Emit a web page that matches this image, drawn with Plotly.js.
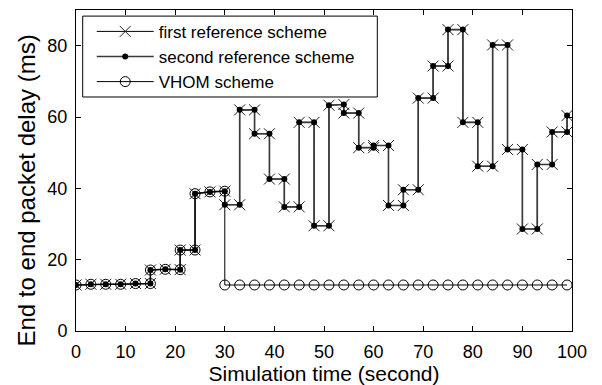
<!DOCTYPE html>
<html>
<head>
<meta charset="utf-8">
<script src="https://cdn.plot.ly/plotly-3.0.1.min.js"></script>
<style>html,body{margin:0;padding:0;background:#fff;}#chart{width:602px;height:385px;}</style>
</head>
<body>
<div id="chart"></div>
<script>
// Simulation time (s) of each plotted point (steps: two points share the time of a jump)
var refTime = [0,3,6,9,12,15,15,18,21,21,24,24,27,30,30,33,33,36,36,39,39,42,42,45,45,48,48,51,51,54,54,57,57,60,60,63,63,66,66,69,69,72,72,75,75,78,78,81,81,84,84,87,87,90,90,93,93,96,96,99,99];
// End to end packet delay (ms)
var firstRefDelay = [12.9,13.1,13.1,13.1,13.3,13.3,17.1,17.3,17.2,22.7,22.7,38.5,39,39.2,35.4,35.4,62,62,55.3,55.3,42.6,42.6,34.8,34.8,58.5,58.5,29.5,29.5,63.3,63.5,61.1,61.1,51.4,51.4,52,52,35.2,35.2,39.6,39.6,65.3,65.3,74.3,74.3,84.5,84.5,58.5,58.5,46.2,46.2,80.2,80.2,50.9,50.9,28.6,28.6,46.7,46.7,55.8,55.8,60.4];
var secondRefDelay = [12.9,13.1,13.1,13.1,13.3,13.3,17.1,17.3,17.2,22.7,22.7,38.5,39,39.2,35.4,35.4,62,62,55.3,55.3,42.6,42.6,34.8,34.8,58.5,58.5,29.5,29.5,63.3,63.5,61.1,61.1,51.4,51.4,52,52,35.2,35.2,39.6,39.6,65.3,65.3,74.3,74.3,84.5,84.5,58.5,58.5,46.2,46.2,80.2,80.2,50.9,50.9,28.6,28.6,46.7,46.7,55.8,55.8,60.4];
var vhomTime = [0,3,6,9,12,15,15,18,21,21,24,24,27,30,30,33,36,39,42,45,48,51,54,57,60,63,66,69,72,75,78,81,84,87,90,93,96,99];
var vhomDelay = [12.9,13.1,13.1,13.1,13.3,13.3,17.1,17.3,17.2,22.7,22.7,38.5,39,39.2,12.9,12.9,12.9,12.9,12.9,12.9,12.9,12.9,12.9,12.9,12.9,12.9,12.9,12.9,12.9,12.9,12.9,12.9,12.9,12.9,12.9,12.9,12.9,12.9];
var seriesNames = ['first reference scheme','second reference scheme','VHOM scheme'];
var xTicks = [0,10,20,30,40,50,60,70,80,90,100];
var yTicks = [0,20,40,60,80];
var xTitle = 'Simulation time (second)';
var yTitle = 'End to end packet delay (ms)';

var FONT = 'Liberation Sans, Arial, sans-serif';
var traces = [
  {x: refTime, y: firstRefDelay, name: seriesNames[0], mode: 'lines+markers',
   line: {color: '#000', width: 1},
   marker: {symbol: 'x-thin-open', size: 11, color: '#222', line: {color: '#222', width: 1}}},
  {x: refTime, y: secondRefDelay, name: seriesNames[1], mode: 'lines+markers',
   line: {color: '#3a3a3a', width: 1.6},
   marker: {symbol: 'circle', size: 6, color: '#000'}},
  {x: vhomTime, y: vhomDelay, name: seriesNames[2], mode: 'lines+markers',
   line: {color: '#000', width: 1},
   marker: {symbol: 'circle-open', size: 10, color: '#000', line: {color: '#000', width: 1}}}
];
var layout = {
  width: 602, height: 385,
  margin: {l: 76, r: 30, t: 10, b: 54, pad: 0},
  paper_bgcolor: '#fff', plot_bgcolor: '#fff',
  font: {family: FONT, size: 18, color: '#000'},
  showlegend: true,
  legend: {x: 0.0317, y: 0.988, xanchor: 'left', yanchor: 'top',
    bgcolor: 'rgba(0,0,0,0)', borderwidth: 0,
    font: {family: FONT, size: 17, color: '#000'}, itemwidth: 57, tracegroupgap: 0},
  shapes: [
    {type: 'rect', xref: 'paper', yref: 'paper', x0: 0.0135, x1: 0.6075, y0: 0.729, y1: 0.981,
     line: {color: '#000', width: 1}, fillcolor: '#fff', layer: 'below'}
  ],
  annotations: [
    {text: yTitle, xref: 'paper', yref: 'paper', x: -0.1008, y: 0.4377,
     xanchor: 'center', yanchor: 'middle', textangle: -90, showarrow: false,
     font: {family: FONT, size: 24, color: '#000'}}
  ],
  xaxis: {range: [0, 100], tickvals: xTicks, ticks: 'inside', ticklen: 5, tickcolor: '#000',
    showline: true, linecolor: '#000', linewidth: 1, mirror: 'ticks', showgrid: false, zeroline: false,
    tickfont: {family: FONT, size: 18}, ticklabelstandoff: 4,
    title: {text: xTitle, font: {family: FONT, size: 21}, standoff: 2}},
  yaxis: {range: [0, 90], tickvals: yTicks, ticks: 'inside', ticklen: 5, tickcolor: '#000',
    showline: true, linecolor: '#000', linewidth: 1, mirror: 'ticks', showgrid: false, zeroline: false,
    tickfont: {family: FONT, size: 18}, ticklabelstandoff: 4}
};
Plotly.newPlot('chart', traces, layout, {displayModeBar: false, staticPlot: true});
</script>
</body>
</html>
